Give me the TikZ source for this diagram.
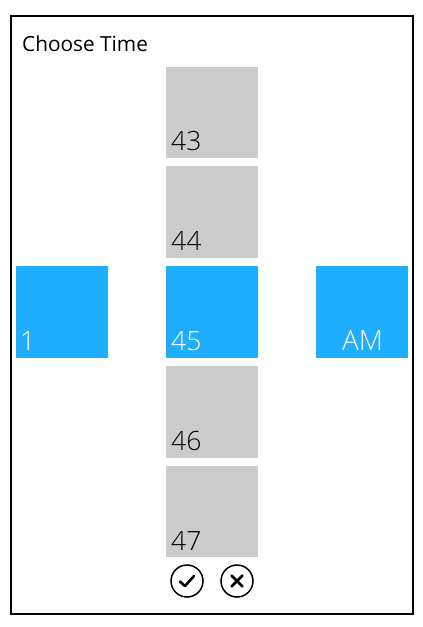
\documentclass[tikz,border=0pt]{standalone}
\usepackage{fontspec}
\setmainfont{Open Sans}
\newfontfamily\lightf{Open Sans Light}
\definecolor{tileblue}{HTML}{1FADFF}
\definecolor{tilegray}{HTML}{CCCCCC}
\tikzset{
  tile/.style={anchor=north west,inner sep=0pt,outer sep=0pt,minimum width=92pt,minimum height=92pt},
  graytile/.style={tile,fill=tilegray},
  bluetile/.style={tile,fill=tileblue},
  num/.style={anchor=base west,inner sep=0pt,font=\lightf\fontsize{26.5}{27}\selectfont},
  roundbtn/.style={circle,draw=black,line width=1.5pt,minimum size=32pt,inner sep=0pt},
  glyph/.style={line width=2.6pt,line cap=round,line join=round}
}
\begin{document}
\begin{tikzpicture}[x=1pt,y=-1pt]
\useasboundingbox (0,0) rectangle (423,627);
\node[draw=black,line width=2pt,fill=white,anchor=north west,inner sep=0pt,minimum width=402pt,minimum height=598pt] (frame) at (10,15) {};
\node[anchor=base west,inner sep=0pt,font=\fontsize{20.8}{21}\selectfont] (title) at (22,51) {Choose Time};
\node[graytile,minimum height=91pt] (t43) at (166,67) {};
\node[graytile] (t44) at (166,166) {};
\node[bluetile] (t45) at (166,266) {};
\node[graytile] (t46) at (166,366) {};
\node[graytile,minimum height=91pt] (t47) at (166,466) {};
\node[bluetile] (hour) at (16,266) {};
\node[bluetile] (ampm) at (316,266) {};
\node[num,text=black] (l43) at (171,150) {43};
\node[num,text=black] (l44) at (171,250) {44};
\node[num,text=white] (l45) at (171,350) {45};
\node[num,text=black] (l46) at (171,450) {46};
\node[num,text=black] (l47) at (171,550) {47};
\node[num,text=white] (l1) at (20,350) {1};
\node[num,text=white,anchor=base,font=\lightf\fontsize{28}{28}\selectfont] (lam) at (362.5,350) {AM};
\node[roundbtn] (ok) at (187,581) {};
\node[roundbtn] (no) at (237,581) {};
\draw[glyph] ([shift={(-7,0.5)}]ok.center) -- ([shift={(-2,5)}]ok.center) -- ([shift={(7,-5)}]ok.center);
\draw[glyph] ([shift={(-5.5,-5.5)}]no.center) -- ([shift={(5.5,5.5)}]no.center);
\draw[glyph] ([shift={(-5.5,5.5)}]no.center) -- ([shift={(5.5,-5.5)}]no.center);
\end{tikzpicture}
\end{document}
